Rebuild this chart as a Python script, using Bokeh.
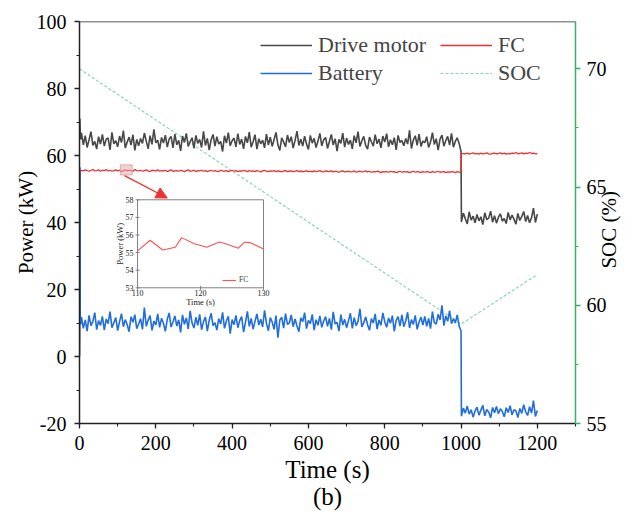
import numpy as np
from bokeh.plotting import figure
from bokeh.models import (Range1d, LinearAxis, SingleIntervalTicker, FixedTicker, Legend,
                          LegendItem, BoxAnnotation, Arrow, NormalHead, Span,
                          PrintfTickFormatter)
from bokeh.core.properties import value
from bokeh.embed import file_html
from bokeh.resources import INLINE

# ---------------- data ----------------
t_start = [0, 1, 2, 3]
motor_start = [65.0, 71.0, 66.2, 64.8]
fc_start = [0.0, 14.0, 55.2, 55.5]
battery_start = [0.0, 56.5, 11.0, 9.6]

# 5 s ... 1000 s (200 samples)
motor_a = [
    66.8, 63.2, 65.9, 62.4, 64.7, 67.1, 63.0, 64.2, 61.9, 65.6,
    63.4, 66.3, 62.8, 64.9, 65.2, 61.7, 66.9, 63.5, 64.4, 62.6,
    65.8, 63.9, 67.4, 62.2, 64.0, 65.5, 63.1, 66.2, 61.5, 64.8,
    62.9, 65.1, 63.6, 66.7, 64.3, 62.0, 65.9, 63.3, 67.8, 63.8,
    64.6, 61.8, 65.4, 63.7, 66.1, 62.5, 64.9, 65.7, 62.3, 66.4,
    63.2, 64.5, 61.4, 65.8, 63.9, 66.6, 62.7, 64.1, 65.3, 62.1,
    66.0, 63.6, 64.8, 62.4, 67.2, 63.0, 65.1, 61.6, 64.7, 66.3,
    62.8, 65.6, 63.4, 64.2, 61.2, 65.9, 63.7, 66.8, 62.9, 64.4,
    65.2, 62.6, 66.5, 63.3, 64.9, 62.0, 65.7, 63.8, 67.0, 62.5,
    64.1, 66.2, 61.9, 65.0, 63.5, 64.6, 62.3, 66.4, 63.1, 65.5,
    62.7, 64.8, 66.9, 63.2, 61.5, 65.3, 64.0, 62.6, 66.1, 63.9,
    65.6, 62.2, 64.5, 67.3, 63.0, 64.9, 62.8, 65.8, 63.4, 61.8,
    66.0, 63.7, 65.1, 62.4, 64.3, 66.6, 62.9, 64.7, 65.4, 62.1,
    64.2, 66.3, 63.1, 65.0, 61.3, 64.8, 63.6, 66.7, 62.5, 65.2,
    63.3, 64.6, 62.0, 65.9, 63.8, 67.1, 62.7, 64.4, 65.7, 63.0,
    61.9, 65.5, 64.1, 62.8, 66.2, 63.5, 64.9, 62.3, 65.8, 64.0,
    66.5, 62.6, 64.7, 63.2, 65.3, 61.7, 66.0, 63.9, 64.5, 62.9,
    65.1, 63.4, 67.5, 62.1, 64.6, 65.9, 63.0, 66.4, 62.7, 64.3,
    63.8, 65.6, 62.4, 64.0, 66.8, 63.3, 65.0, 61.6, 64.9, 66.1,
    62.8, 64.4, 65.7, 63.1, 66.6, 62.5, 64.2, 65.3, 63.6, 61.2,
]
fc_a = [
    55.6, 55.4, 55.7, 55.5, 55.3, 55.6, 55.8, 55.4, 55.5, 55.7,
    55.3, 55.6, 55.5, 55.8, 55.4, 55.6, 55.3, 55.5, 55.7, 55.4,
    55.6, 55.2, 55.5, 55.7, 55.4, 55.6, 55.5, 55.3, 55.8, 55.5,
    55.4, 55.6, 55.3, 55.5, 55.7, 55.4, 55.2, 55.6, 55.5, 55.4,
    55.7, 55.3, 55.5, 55.4, 55.6, 55.2, 55.5, 55.7, 55.3, 55.4,
    55.5, 55.3, 55.6, 55.4, 55.2, 55.5, 55.7, 55.3, 55.4, 55.6,
    55.2, 55.5, 55.4, 55.6, 55.3, 55.5, 55.2, 55.4, 55.6, 55.3,
    55.5, 55.3, 55.2, 55.6, 55.4, 55.3, 55.5, 55.2, 55.4, 55.6,
    55.3, 55.5, 55.2, 55.4, 55.3, 55.6, 55.4, 55.2, 55.5, 55.3,
    55.4, 55.2, 55.5, 55.3, 55.1, 55.4, 55.6, 55.3, 55.2, 55.4,
    55.3, 55.5, 55.2, 55.4, 55.3, 55.1, 55.4, 55.5, 55.2, 55.3,
    55.4, 55.2, 55.3, 55.5, 55.2, 55.4, 55.1, 55.3, 55.4, 55.2,
    55.3, 55.1, 55.4, 55.2, 55.3, 55.5, 55.2, 55.1, 55.4, 55.3,
    55.2, 55.4, 55.1, 55.3, 55.2, 55.0, 55.3, 55.4, 55.1, 55.2,
    55.3, 55.1, 55.2, 55.4, 55.0, 55.2, 55.3, 55.1, 55.2, 55.4,
    55.1, 55.3, 55.0, 55.2, 55.1, 55.3, 55.2, 54.9, 55.2, 55.1,
    55.2, 55.0, 55.3, 55.1, 55.2, 54.9, 55.1, 55.3, 55.0, 55.2,
    55.1, 55.2, 54.9, 55.1, 55.3, 55.0, 55.2, 55.1, 54.9, 55.2,
    55.0, 55.2, 55.1, 54.9, 55.2, 55.0, 55.1, 55.3, 55.0, 55.1,
    55.2, 54.9, 55.1, 55.0, 55.2, 55.1, 54.9, 55.2, 55.0, 55.1,
]
battery_a = [
    11.8, 8.4, 10.9, 7.6, 12.3, 9.2, 10.5, 13.1, 8.0, 10.7,
    9.3, 12.0, 7.9, 11.2, 9.8, 13.4, 8.6, 10.1, 11.6, 7.7,
    10.4, 12.8, 8.9, 11.0, 9.5, 7.4, 11.9, 10.2, 12.5, 8.3,
    9.7, 11.3, 8.1, 14.6, 9.0, 10.8, 12.2, 7.8, 10.6, 9.4,
    12.7, 8.7, 11.4, 9.9, 7.5, 11.1, 13.0, 8.8, 10.3, 12.1,
    9.1, 10.9, 7.2, 12.4, 9.6, 11.5, 8.2, 13.6, 10.0, 8.5,
    11.7, 9.3, 12.6, 8.0, 10.4, 11.8, 7.6, 10.8, 12.9, 9.2,
    10.1, 7.9, 11.3, 9.7, 13.2, 8.4, 10.6, 12.0, 6.8, 11.0,
    9.5, 12.3, 8.6, 10.7, 11.9, 7.3, 10.2, 13.5, 9.0, 11.4,
    8.2, 10.5, 12.7, 9.4, 11.1, 8.8, 13.8, 9.9, 7.7, 11.6,
    10.3, 8.1, 12.2, 5.6, 10.9, 11.7, 8.5, 12.8, 9.6, 10.0,
    12.4, 8.9, 11.2, 9.1, 7.4, 11.5, 10.4, 13.1, 8.3, 10.8,
    9.8, 12.6, 7.9, 11.0, 9.3, 12.1, 8.7, 10.6, 11.9, 9.0,
    11.4, 8.0, 13.3, 9.7, 10.2, 7.6, 12.5, 9.4, 11.1, 8.6,
    10.7, 12.9, 8.4, 11.6, 9.2, 10.5, 14.2, 8.8, 10.1, 11.8,
    9.5, 7.8, 11.3, 10.0, 12.7, 8.2, 10.9, 9.3, 13.0, 10.4,
    8.7, 11.5, 9.9, 12.2, 7.5, 10.8, 11.9, 9.1, 12.4, 8.9,
    10.6, 13.2, 8.5, 11.0, 9.6, 12.3, 8.1, 10.3, 11.7, 9.4,
    12.0, 9.0, 11.4, 8.3, 13.4, 10.1, 9.7, 12.6, 10.9, 15.3,
    9.2, 12.1, 10.5, 13.7, 9.8, 11.3, 10.0, 12.4, 9.1, 7.6,
]
# 1001 s ... 1200 s (40 samples)
motor_b = [
    40.2, 42.8, 41.1, 39.6, 43.2, 40.7, 41.9, 39.9, 42.4, 40.5,
    41.7, 39.4, 42.9, 40.9, 41.3, 43.4, 40.1, 42.0, 39.8, 41.6,
    42.6, 40.4, 41.2, 39.7, 43.0, 40.8, 42.2, 41.0, 39.5, 42.7,
    40.6, 41.8, 43.3, 40.3, 42.1, 39.9, 41.4, 44.3, 40.0, 42.5,
]
fc_b = [
    60.4, 60.6, 60.5, 60.7, 60.4, 60.6, 60.8, 60.5, 60.6, 60.4,
    60.7, 60.5, 60.6, 60.8, 60.5, 60.4, 60.6, 60.7, 60.5, 60.6,
    60.8, 60.5, 60.7, 60.4, 60.6, 60.5, 60.7, 60.6, 60.9, 60.5,
    60.6, 60.8, 60.5, 60.7, 60.6, 60.9, 60.6, 60.7, 60.5, 60.6,
]
battery_b = [
    -17.8, -15.4, -16.9, -14.8, -17.2, -15.9, -18.1, -16.3, -15.1, -17.5,
    -16.0, -14.6, -17.7, -15.8, -16.6, -18.3, -15.2, -16.8, -14.9, -17.1,
    -15.6, -16.4, -18.0, -15.3, -16.7, -14.7, -17.4, -15.9, -16.2, -18.2,
    -15.5, -17.0, -14.4, -16.5, -17.6, -15.0, -16.9, -13.2, -17.9, -16.1,
]
soc_t = [0, 1000, 1200]
soc = [70.0, 59.2, 61.3]

# zoomed inset (FC, 110-130 s)
inset_t = [110, 112, 114, 116, 117, 119, 121, 123, 124, 126, 127, 128, 130]
inset_fc = [55.1, 55.7, 55.15, 55.3, 55.85, 55.5, 55.3, 55.6, 55.5, 55.25, 55.6, 55.55, 55.2]
inset_xticks = [110, 120, 130]
inset_yticks = [53, 54, 55, 56, 57, 58]
zoom_box = dict(left=107, right=138, bottom=54.2, top=57.2)

# ---------------- assemble sample times ----------------
t_a = np.linspace(5, 1000, len(motor_a))
t_b = np.linspace(1001, 1200, len(motor_b))
time = np.concatenate([t_start, t_a, t_b])
motor = np.concatenate([motor_start, motor_a, motor_b])
fc = np.concatenate([fc_start, fc_a, fc_b])
battery = np.concatenate([battery_start, battery_a, battery_b])

FONT = "Liberation Serif"
GREY = "#474747"
RED = "#f03030"
BLUE = "#1f6edc"
SOCC = "#80d2b0"
GREEN = "#36b06c"

p = figure(width=641, height=518, x_range=Range1d(0, 1300), y_range=Range1d(-20, 100),
           output_backend="svg", toolbar_location=None,
           min_border_left=79, min_border_right=66, min_border_top=21, min_border_bottom=95)
p.outline_line_color = None
p.grid.visible = False

# inset placement as fractions of the frame
fx0, fx1, fy0, fy1 = 0.117, 0.371, 0.3376, 0.5565
ix0, ix1, iy0, iy1 = 110, 130, 53, 58
span_t = (ix1 - ix0) / (fx1 - fx0)
ia = ix0 - fx0 * span_t
span_p = (iy1 - iy0) / (fy1 - fy0)
ic = iy0 - fy0 * span_p
p.extra_x_ranges = {"ix": Range1d(ia, ia + span_t)}
p.extra_y_ranges = {"soc": Range1d(55, 72), "iy": Range1d(ic, ic + span_p)}

def style_axis(ax, color="#222222"):
    ax.axis_line_color = color
    ax.axis_line_width = 1.5
    ax.major_tick_line_color = color
    ax.minor_tick_line_color = color
    ax.major_tick_line_width = 1.3
    ax.minor_tick_line_width = 1.1
    ax.major_tick_out = 5
    ax.major_tick_in = 0
    ax.minor_tick_out = 3
    ax.minor_tick_in = 0
    ax.major_label_text_font = FONT
    ax.major_label_text_font_size = "20px"
    ax.major_label_text_color = "black"
    ax.axis_label_text_font = FONT
    ax.axis_label_text_font_style = "normal"
    ax.axis_label_text_color = "black"
    ax.formatter = PrintfTickFormatter(format="%d")

xa = p.xaxis[0]
style_axis(xa)
xa.ticker = SingleIntervalTicker(interval=200, num_minor_ticks=2)
xa.axis_label = "Time (s)\n(b)"
xa.axis_label_text_font_size = "25px"
xa.axis_label_text_line_height = 1.0
xa.major_label_standoff = 7
xa.axis_label_standoff = 3

ya = p.yaxis[0]
style_axis(ya)
ya.ticker = SingleIntervalTicker(interval=20, num_minor_ticks=2)
ya.axis_label = "Power (kW)"
ya.axis_label_text_font_size = "21px"
ya.major_label_standoff = 8
ya.axis_label_standoff = -4

ra = LinearAxis(y_range_name="soc",
                ticker=SingleIntervalTicker(interval=5, num_minor_ticks=2))
style_axis(ra, GREEN)
ra.major_label_standoff = 6
p.add_layout(ra, "right")

# right-hand title "SOC (%)", reading bottom-to-top, drawn as the single label
# of a bare second SOC axis (the text starts at SOC_TITLE_START and runs upward)
SOC_TITLE_START = 61.55
ta = LinearAxis(y_range_name="soc", ticker=FixedTicker(ticks=[SOC_TITLE_START]),
                major_label_overrides={SOC_TITLE_START: "SOC (%)"},
                major_label_orientation=np.pi / 2,
                axis_line_color=None, major_tick_line_color=None,
                minor_tick_line_color=None,
                major_label_text_font=FONT, major_label_text_font_size="21px",
                major_label_text_color="black", major_label_standoff=-6)
p.add_layout(ta, "right")

p.add_layout(Span(location=100, dimension="width", line_color="#222222", line_width=1.5))

# main series
r_soc = p.line(soc_t, soc, y_range_name="soc", line_color=SOCC, line_width=1.1, line_dash="3 2")
r_motor = p.line(time, motor, line_color=GREY, line_width=1.6)
r_fc = p.line(time, fc, line_color=RED, line_width=1.3)
r_bat = p.line(time, battery, line_color=BLUE, line_width=1.6)

# highlight box + arrow
p.add_layout(BoxAnnotation(**zoom_box, fill_color="#e2b0b0", fill_alpha=0.55,
                           line_color="#d89a9a", line_alpha=0.8, line_width=1))
p.add_layout(Arrow(end=NormalHead(size=11, fill_color=RED, line_color=RED),
                   x_start=118, y_start=54.0, x_end=230, y_end=47.3,
                   line_color=RED, line_width=1.3))

# inset
IR = dict(x_range_name="ix", y_range_name="iy")
p.quad(left=[ix0], right=[ix1], bottom=[iy0], top=[iy1], fill_color="white",
       line_color="#808080", line_width=1, **IR)
r_inset = p.line(inset_t, inset_fc, line_color="#ff5050", line_width=1.1, **IR)
p.scatter(x=inset_xticks, y=[iy0] * len(inset_xticks), marker="dash", size=4,
          angle=np.pi / 2, line_color="#808080", **IR)
p.scatter(x=[ix0] * len(inset_yticks), y=inset_yticks, marker="dash", size=4,
          line_color="#808080", **IR)
p.text(x=inset_xticks, y=[iy0] * len(inset_xticks), text=[str(v) for v in inset_xticks],
       text_font=value(FONT), text_font_size="8px", text_align="center",
       text_baseline="top", y_offset=2, text_color="#222", **IR)
p.text(x=[ix0] * len(inset_yticks), y=inset_yticks, text=[str(v) for v in inset_yticks],
       text_font=value(FONT), text_font_size="8px", text_align="right",
       text_baseline="middle", x_offset=-4, text_color="#222", **IR)
p.text(x=[(ix0 + ix1) / 2], y=[iy0], text=["Time (s)"], text_font=value(FONT),
       text_font_size="8.5px", text_align="center", text_baseline="top", y_offset=9,
       text_color="#222", **IR)
p.text(x=[ix0], y=[(iy0 + iy1) / 2], text=["Power (kW)"], text_font=value(FONT),
       text_font_size="8.5px", text_align="center", text_baseline="middle",
       angle=np.pi / 2, x_offset=-18, text_color="#222", **IR)

inset_leg = Legend(items=[LegendItem(label="FC", renderers=[r_inset])],
                   location=(143, 139), padding=0, margin=0, spacing=0,
                   glyph_width=14, glyph_height=8, label_height=8, label_standoff=3,
                   label_text_font=FONT, label_text_font_size="7.5px",
                   border_line_color=None, background_fill_alpha=0)
p.add_layout(inset_leg)

leg = Legend(items=[LegendItem(label="Drive motor", renderers=[r_motor]),
                    LegendItem(label="Battery", renderers=[r_bat]),
                    LegendItem(label="FC", renderers=[r_fc]),
                    LegendItem(label="SOC", renderers=[r_soc])],
             ncols=2, location=(181, 337), padding=0, margin=0, spacing=2,
             glyph_width=52, glyph_height=20, label_height=20, label_width=120,
             label_standoff=6, label_text_font=FONT, label_text_font_size="22px",
             border_line_color=None, background_fill_alpha=0)
p.add_layout(leg)

open("out.html", "w").write(file_html(p, INLINE))
